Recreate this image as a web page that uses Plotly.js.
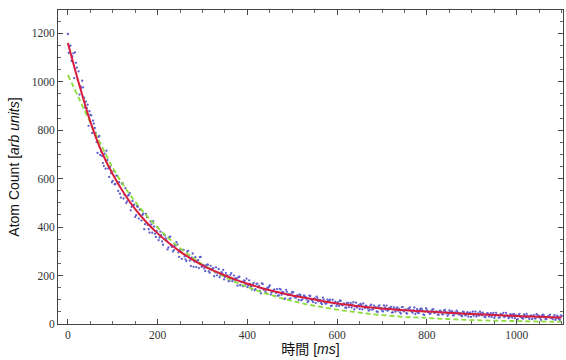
<!DOCTYPE html>
<html><head><meta charset="utf-8">
<script src="https://cdn.plot.ly/plotly-3.0.1.min.js"></script>
<style>html,body{margin:0;padding:0;background:#fff}#chart{width:566px;height:360px}</style>
</head><body><div id="chart"></div>
<script>
// Fit curves sampled every 25 ms
const curveTimes = [0,25,50,75,100,125,150,175,200,225,250,275,300,325,350,375,400,425,450,475,500,525,550,575,600,625,650,675,700,725,750,775,800,825,850,875,900,925,950,975,1000,1025,1050,1075,1100];
const redFit = [1160,990,835,712,618,540,474,420,374,334,299,269,242,220,200,182,166,152,139,128,118,109,101,92,85,79,73,68,64,60,57,54,52,49,46,43,41,39,37,35,33,31,30,28,27];
const greenFit = [1028,930,830,735,645,570,505,448,398,353,313,278,246,219,194,172,153,136,121,107,95,84,75,67,59,53,47,41,37,33,29,27,25,22,20,18,16,15,14,13,12,11,10,10,9];

// Measured atom counts: run A sampled at 0,4,8,... ms; run B at 2,6,10,... ms
const stepMs = 4;
const startA = 0;
const startB = 2;
const atomCountsA = [1197,1148,1086,1117,1121,1058,1043,981,1004,934,918,905,878,861,839,809,751,772,698,693,652,641,676,607,622,591,576,612,549,538,579,518,561,506,533,469,508,493,449,484,472,427,455,412,441,391,423,377,402,359,
399,357,367,327,365,345,316,361,318,305,324,329,277,297,306,279,260,302,262,274,236,276,258,231,277,
238,229,242,245,212,224,230,213,201,227,201,209,184,210,198,180,210,183,176,188,193,160,174,180,163,152,180,154,163,139,166,154,137,168,142,135,149,154,122,136,143,128,117,145,121,130,106,133,123,106,
132,113,108,118,122,98,109,114,102,95,116,98,104,87,107,98,87,109,90,85,96,100,76,87,92,81,74,95,77,84,67,87,79,68,90,72,68,79,83,60,71,76,65,58,80,62,69,52,73,65,55,77,59,55,66,71,48,60,65,55,48,70,52,60,43,64,56,46,68,51,46,58,63,40,52,
57,48,43,59,46,51,39,54,49,40,58,44,41,50,53,36,44,49,40,35,51,38,44,31,47,42,34,51,38,35,44,47,30,38,43,35,29,46,33,38,26,42,36,28,46,32,29,38,41,24,33,37,29,24,40,27,33,21,36,31,23,41,28,25,33,37,20,29,33,25,20,37,23,29,17,33];
const atomCountsB = [1119,1149,1104,1015,1078,1007,947,975,977,894,891,818,863,788,827,789,706,776,713,664,703,715,642,649,585,
632,578,611,585,522,581,533,499,530,540,484,491,442,486,435,473,450,391,454,409,377,411,424,372,384,
346,381,341,371,353,308,358,324,299,327,338,296,305,269,306,267,299,283,239,291,258,235,264,276,236,
244,218,245,217,240,228,197,234,211,193,214,223,194,201,176,203,176,200,189,158,195,173,156,177,187,159,166,142,170,144,167,157,127,165,143,127,149,159,131,139,115,144,118,142,133,103,141,119,104,126,
131,111,117,99,119,101,118,111,90,117,102,91,106,113,94,99,82,102,84,101,94,74,100,85,74,90,97,78,84,67,87,70,87,80,60,88,73,62,78,85,66,72,55,76,59,76,69,50,77,63,52,68,76,57,64,47,68,51,69,62,43,70,56,45,62,69,51,57,41,61,45,63,56,37,65,
50,42,54,61,46,51,38,55,40,55,49,34,56,45,36,48,55,40,45,32,49,35,49,44,29,51,40,31,44,51,36,41,28,45,31,45,40,25,46,36,27,39,46,32,36,24,41,26,41,36,20,42,32,22,35,42,28,32,20,37,23,38,33,17,39,29,20,32,39,25,30,17,34,20,35];
const timesA = atomCountsA.map((_, i) => startA + i * stepMs);
const timesB = atomCountsB.map((_, i) => startB + i * stepMs);

const axisCommon = {
  showline: true, linecolor: '#444', linewidth: 1, mirror: 'allticks',
  ticks: 'inside', ticklen: 5, tickwidth: 1, tickcolor: '#444',
  showgrid: false, zeroline: false,
  tickfont: {family: "'Liberation Serif', 'Times New Roman', serif", size: 11.5, color: '#333'},
  minor: {dtick: 50, ticks: 'inside', ticklen: 3, tickcolor: '#666', showgrid: false}
};

const dotStyle = {color: 'rgb(95,95,205)', size: 2.3};
const traces = [
  {x: timesA, y: atomCountsA, type: 'scatter', mode: 'markers', marker: dotStyle, hoverinfo: 'skip'},
  {x: timesB, y: atomCountsB, type: 'scatter', mode: 'markers', marker: dotStyle, hoverinfo: 'skip'},
  {x: curveTimes, y: greenFit, type: 'scatter', mode: 'lines',
   line: {color: 'rgb(140,220,60)', width: 1.8, dash: '5px,3px', shape: 'spline'}},
  {x: curveTimes, y: redFit, type: 'scatter', mode: 'lines',
   line: {color: 'rgb(215,30,60)', width: 2, shape: 'spline'}}
];

const layout = {
  width: 566, height: 360,
  margin: {l: 58, r: 3, t: 10, b: 36},
  paper_bgcolor: '#fff', plot_bgcolor: '#fff',
  showlegend: false,
  xaxis: Object.assign({}, axisCommon, {
    range: [-22, 1103], tick0: 0, dtick: 200,
    title: {text: '時間 [<i>ms</i>]', standoff: 4,
      font: {family: "'Liberation Sans', Arial, 'Noto Sans CJK JP', sans-serif", size: 14, color: '#111'}}
  }),
  yaxis: Object.assign({}, axisCommon, {
    range: [0, 1296], tick0: 0, dtick: 200,
    title: {text: 'Atom Count [<i>arb units</i>]', standoff: 8,
      font: {family: "'Liberation Sans', Arial, sans-serif", size: 14, color: '#111'}}
  })
};

Plotly.newPlot('chart', traces, layout, {displayModeBar: false, staticPlot: true});
</script></body></html>
